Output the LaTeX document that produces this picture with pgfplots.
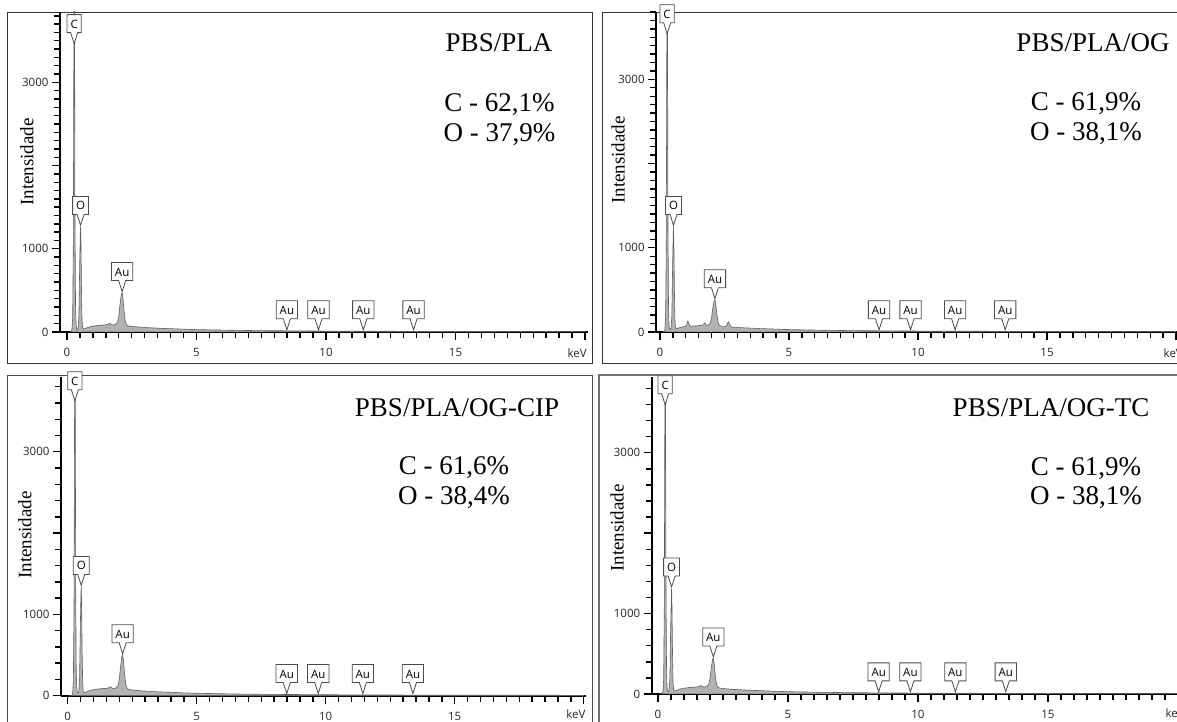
\documentclass[border=0pt]{standalone}
\usepackage{pgfplots}
\pgfplotsset{compat=1.18}
\usepackage{pgfplotstable}
\usepackage{fontspec}
\setmainfont{Liberation Serif}
\newfontfamily\tickfont{Open Sans}
\usetikzlibrary{shapes.callouts}

\pgfplotstableread{
x y
0.10 0
0.16 4
0.19 25
0.22 180
0.245 1100
0.265 3400
0.28 4700
0.295 3200
0.31 1300
0.33 320
0.35 90
0.37 40
0.40 30
0.43 45
0.46 200
0.49 800
0.515 1200
0.525 1265
0.54 1050
0.56 500
0.58 150
0.60 60
0.63 38
0.66 36
0.70 42
0.75 48
0.80 52
0.85 58
0.90 63
0.95 66
1.00 72
1.05 70
1.10 76
1.15 74
1.20 80
1.25 78
1.30 84
1.35 80
1.40 86
1.45 82
1.50 88
1.55 85
1.60 96
1.65 104
1.70 94
1.75 86
1.80 84
1.85 92
1.90 96
1.95 118
2.00 190
2.05 340
2.10 455
2.13 470
2.16 410
2.20 260
2.25 130
2.30 88
2.35 76
2.40 72
2.45 68
2.50 70
2.55 64
2.60 66
2.65 61
2.70 63
2.75 58
2.80 60
2.90 55
3.00 56
3.10 51
3.20 52
3.30 48
3.40 49
3.50 45
3.60 46
3.70 42
3.80 43
3.90 40
4.00 40
4.20 37
4.40 35
4.60 33
4.80 30
5.00 29
5.30 27
5.60 25
6.00 23
6.50 20
7.00 18
7.50 16
8.00 15
8.50 14
9.00 13
9.50 12
10.0 11
10.5 10
11.0 10
11.5 9
12.0 9
13.0 8
14.0 7
15.0 6
16.0 6
17.0 5
18.0 5
19.0 4
20.0 4
}\specA

\pgfplotstableread{
x y
0.10 0
0.16 4
0.19 25
0.22 180
0.245 1100
0.265 3400
0.28 4700
0.295 3200
0.31 1300
0.33 320
0.35 90
0.37 40
0.40 30
0.43 45
0.46 190
0.49 780
0.515 1190
0.525 1250
0.54 1030
0.56 480
0.58 140
0.60 58
0.63 38
0.66 40
0.70 45
0.75 50
0.80 55
0.85 58
0.90 62
0.95 64
1.00 66
1.04 90
1.08 130
1.12 100
1.16 70
1.20 68
1.25 70
1.30 72
1.35 70
1.40 74
1.45 72
1.50 76
1.55 78
1.60 82
1.65 80
1.70 95
1.74 108
1.78 90
1.82 78
1.86 82
1.90 86
1.95 110
2.00 170
2.05 290
2.10 370
2.13 380
2.16 340
2.20 220
2.25 115
2.30 80
2.35 72
2.40 70
2.45 66
2.50 68
2.55 66
2.60 90
2.65 120
2.70 92
2.75 64
2.80 58
2.90 55
3.00 54
3.10 51
3.20 52
3.30 48
3.40 49
3.50 45
3.60 46
3.70 42
3.80 43
3.90 40
4.00 40
4.20 37
4.40 35
4.60 33
4.80 30
5.00 29
5.30 27
5.60 25
6.00 23
6.50 20
7.00 18
7.50 16
8.00 15
8.50 14
9.00 13
9.50 12
10.0 11
10.5 10
11.0 10
11.5 9
12.0 9
13.0 8
14.0 7
15.0 6
16.0 6
17.0 5
18.0 5
19.0 4
20.0 4
}\specB

\pgfplotstableread{
x y
0.10 0
0.16 4
0.19 25
0.22 180
0.245 1100
0.265 3400
0.28 4700
0.295 3200
0.31 1300
0.33 330
0.35 95
0.37 42
0.40 32
0.43 48
0.46 210
0.49 850
0.515 1280
0.525 1340
0.54 1110
0.56 530
0.58 160
0.60 62
0.63 40
0.66 38
0.70 44
0.75 50
0.80 56
0.85 62
0.90 68
0.95 70
1.00 76
1.05 74
1.10 80
1.15 78
1.20 84
1.25 82
1.30 88
1.35 84
1.40 90
1.45 86
1.50 92
1.55 90
1.60 102
1.65 110
1.70 98
1.75 90
1.80 88
1.85 96
1.90 100
1.95 125
2.00 200
2.05 360
2.10 485
2.13 500
2.16 440
2.20 275
2.25 135
2.30 92
2.35 80
2.40 75
2.45 71
2.50 73
2.55 67
2.60 69
2.65 64
2.70 66
2.75 61
2.80 62
2.90 57
3.00 58
3.10 53
3.20 54
3.30 50
3.40 51
3.50 47
3.60 48
3.70 44
3.80 45
3.90 42
4.00 42
4.20 39
4.40 36
4.60 34
4.80 31
5.00 30
5.30 28
5.60 26
6.00 24
6.50 21
7.00 19
7.50 17
8.00 16
8.50 15
9.00 14
9.50 13
10.0 12
10.5 11
11.0 10
11.5 10
12.0 9
13.0 8
14.0 7
15.0 7
16.0 6
17.0 6
18.0 5
19.0 5
20.0 4
}\specC

\pgfplotstableread{
x y
0.10 0
0.16 4
0.19 25
0.22 180
0.245 1100
0.265 3400
0.28 4700
0.295 3200
0.31 1300
0.33 325
0.35 92
0.37 41
0.40 31
0.43 46
0.46 205
0.49 830
0.515 1250
0.525 1315
0.54 1090
0.56 515
0.58 155
0.60 60
0.63 39
0.66 37
0.70 43
0.75 49
0.80 54
0.85 60
0.90 65
0.95 68
1.00 74
1.05 72
1.10 78
1.15 76
1.20 82
1.25 80
1.30 86
1.35 82
1.40 88
1.45 84
1.50 90
1.55 87
1.60 98
1.65 106
1.70 96
1.75 88
1.80 86
1.85 94
1.90 98
1.95 120
2.00 185
2.05 320
2.10 430
2.13 444
2.16 390
2.20 245
2.25 125
2.30 88
2.35 77
2.40 73
2.45 69
2.50 71
2.55 65
2.60 67
2.65 62
2.70 64
2.75 59
2.80 60
2.90 56
3.00 56
3.10 52
3.20 53
3.30 49
3.40 50
3.50 46
3.60 47
3.70 43
3.80 44
3.90 41
4.00 41
4.20 38
4.40 35
4.60 33
4.80 31
5.00 29
5.30 27
5.60 25
6.00 23
6.50 20
7.00 18
7.50 16
8.00 15
8.50 14
9.00 13
9.50 12
10.0 11
10.5 10
11.0 10
11.5 9
12.0 9
13.0 8
14.0 7
15.0 6
16.0 6
17.0 5
18.0 5
19.0 4
20.0 4
}\specD

\pgfplotsset{
  eds/.style={
    scale only axis,
    axis x line*=bottom, axis y line*=left,
    axis line style={line width=1.8pt, black, -},
    tick style={black, line width=1.4pt},
    major tick length=8pt, minor tick length=6pt,
    tick align=outside,
    xmax=20.1, ymin=0,
    xtick={0,5,10,15,20}, xticklabels={0,5,10,15,{}},
    minor xtick={0,0.5,...,20},
    ytick={0,1000,3000}, extra y ticks={2000}, extra y tick labels={},
    /pgf/number format/1000 sep={},
    /pgf/number format/assume math mode=true,
    tick label style={font=\tickfont\fontsize{11.5}{13}\selectfont, text=black!85},
    xticklabel style={yshift=-5pt},
    clip mode=individual,
  },
  spec/.style={fill=black!30, draw=black!62, line width=0.6pt},
}
\tikzset{
  lbl/.style={rectangle callout, draw=black!70, fill=white, line width=0.8pt,
    font=\tickfont\fontsize{11.5}{13}\selectfont, inner xsep=3.5pt, inner ysep=4.5pt,
    text height=9pt, text depth=0pt,
    callout relative pointer={(canvas cs:x=0pt,y=-11pt)}, callout pointer width=7pt,
    anchor=pointer},
  ttl/.style={font=\fontsize{27}{30}\selectfont, anchor=base},
  ylab/.style={font=\fontsize{19}{22}\selectfont, rotate=90, anchor=center},
  kev/.style={font=\tickfont\fontsize{11.5}{13}\selectfont, anchor=north east, text=black!85},
}

\begin{document}
\begin{tikzpicture}[x=1pt,y=1pt]
\useasboundingbox (0,0) rectangle (1177,722);
\clip (0,0) rectangle (1177,722);
\fill[white] (0,0) rectangle (1177,722);
% frames
\draw[black!80, line width=1pt] (7,358) rectangle (592,709.5);
\draw[black!80, line width=1pt] (602,358) rectangle (1190,709.5);
\draw[black!70, line width=1pt] (7,-10) rectangle (592,346);
\draw[black!55, line width=1.5pt] (599,-10) rectangle (1190,347);

% ---- top left
\begin{axis}[eds, at={(60pt,390pt)}, anchor=south west, width=527.6pt, height=320pt,
  xmin=-0.27, ymax=3846, minor ytick={0,100,...,3800}]
\addplot[spec] table[x=x,y=y] {\specA} \closedcycle;
\node[lbl] at (axis cs:0.277,3450) {C};
\node[lbl] at (axis cs:0.525,1265) {O};
\node[lbl] at (axis cs:2.13,470) {Au};
\node[lbl] at (axis cs:8.49,10) {Au};
\node[lbl] at (axis cs:9.71,10) {Au};
\node[lbl] at (axis cs:11.44,10) {Au};
\node[lbl] at (axis cs:13.38,10) {Au};
\node[kev] at (axis cs:20.2,0) [yshift=-13pt] {keV};
\end{axis}

% ---- top right
\begin{axis}[eds, at={(656.1pt,390pt)}, anchor=south west, width=522.5pt, height=320pt,
  xmin=-0.15, ymax=3800, minor ytick={0,100,...,3800}]
\addplot[spec] table[x=x,y=y] {\specB} \closedcycle;
\node[lbl] at (axis cs:0.277,3527) {C};
\node[lbl] at (axis cs:0.525,1250) {O};
\node[lbl] at (axis cs:2.13,380) {Au};
\node[lbl] at (axis cs:8.49,10) {Au};
\node[lbl] at (axis cs:9.71,10) {Au};
\node[lbl] at (axis cs:11.44,10) {Au};
\node[lbl] at (axis cs:13.38,10) {Au};
\node[kev] at (axis cs:20.4,0) [yshift=-13pt] {keV};
\end{axis}

% ---- bottom left
\begin{axis}[eds, at={(61pt,26.3pt)}, anchor=south west, width=525.3pt, height=318.7pt,
  xmin=-0.26, ymax=3920, minor ytick={0,200,...,3800}]
\addplot[spec] table[x=x,y=y] {\specC} \closedcycle;
\node[lbl] at (axis cs:0.277,3612) {C};
\node[lbl] at (axis cs:0.525,1340) {O};
\node[lbl] at (axis cs:2.13,500) {Au};
\node[lbl] at (axis cs:8.49,10) {Au};
\node[lbl] at (axis cs:9.71,10) {Au};
\node[lbl] at (axis cs:11.44,10) {Au};
\node[lbl] at (axis cs:13.38,10) {Au};
\node[kev] at (axis cs:20.2,0) [yshift=-11pt] {keV};
\end{axis}

% ---- bottom right
\begin{axis}[eds, at={(651.7pt,28pt)}, anchor=south west, width=528.8pt, height=316.8pt,
  xmin=-0.24, ymax=3940, minor ytick={0,200,...,3800}]
\addplot[spec] table[x=x,y=y] {\specD} \closedcycle;
\node[lbl] at (axis cs:0.277,3582) {C};
\node[lbl] at (axis cs:0.525,1315) {O};
\node[lbl] at (axis cs:2.13,444) {Au};
\node[lbl] at (axis cs:8.49,10) {Au};
\node[lbl] at (axis cs:9.71,10) {Au};
\node[lbl] at (axis cs:11.44,10) {Au};
\node[lbl] at (axis cs:13.38,10) {Au};
\node[kev] at (axis cs:20.4,0) [yshift=-11pt] {keV};
\end{axis}

% titles and compositions
\node[ttl] at (499,670) {PBS/PLA};
\node[ttl] at (499.5,610) {C - 62,1\%};
\node[ttl] at (499.5,580) {O - 37,9\%};

\node[ttl] at (1093,670) {PBS/PLA/OG};
\node[ttl] at (1086,611) {C - 61,9\%};
\node[ttl] at (1086,581) {O - 38,1\%};

\node[ttl] at (457,305) {PBS/PLA/OG-CIP};
\node[ttl] at (454,247) {C - 61,6\%};
\node[ttl] at (454,217) {O - 38,4\%};

\node[ttl] at (1051,305) {PBS/PLA/OG-TC};
\node[ttl] at (1086,246) {C - 61,9\%};
\node[ttl] at (1086,217) {O - 38,1\%};

% y labels
\node[ylab] at (27,560) {Intensidade};
\node[ylab] at (618,562) {Intensidade};
\node[ylab] at (25,187) {Intensidade};
\node[ylab] at (617,194) {Intensidade};
\end{tikzpicture}
\end{document}
